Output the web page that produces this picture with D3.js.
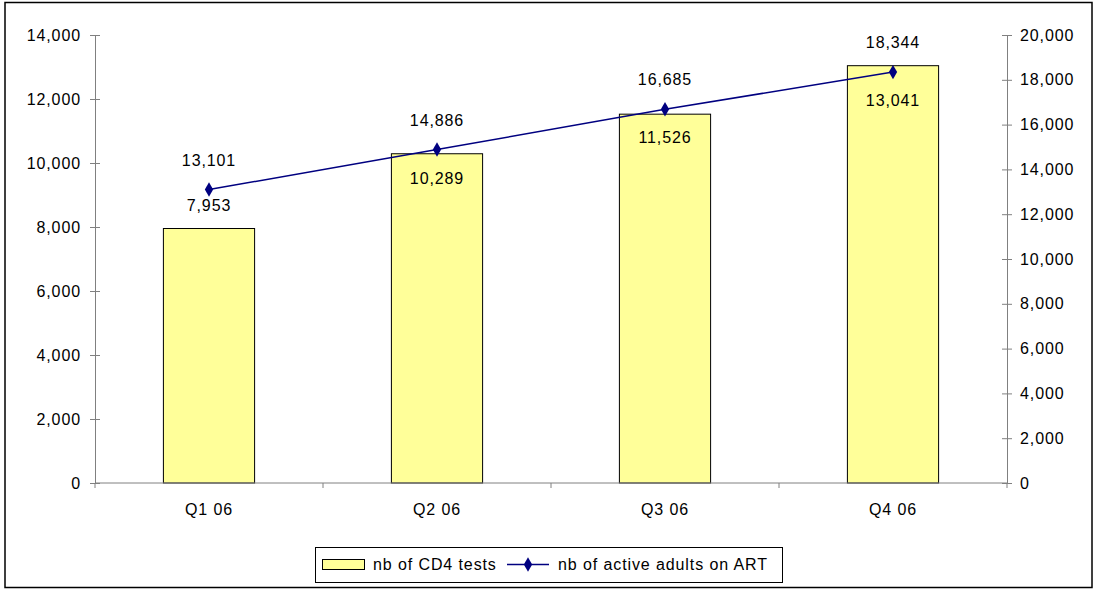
<!DOCTYPE html>
<html>
<head>
<meta charset="utf-8">
<script src="https://cdn.jsdelivr.net/npm/d3@7/dist/d3.min.js"></script>
<style>
  html, body { margin: 0; padding: 0; background: #fff; }
  svg text { font-family: "Liberation Sans", Arial, sans-serif; font-size: 16px; letter-spacing: 0.9px; fill: #000; }
</style>
</head>
<body>
<svg id="chart" width="1094" height="590"></svg>
<script>
// Quarterly figures for 2006
const quarters = ["Q1 06", "Q2 06", "Q3 06", "Q4 06"];
const cd4Tests = [7953, 10289, 11526, 13041];
const activeAdults = [13101, 14886, 16685, 18344];
const leftTicks = [0, 2000, 4000, 6000, 8000, 10000, 12000, 14000];
const rightTicks = [0, 2000, 4000, 6000, 8000, 10000, 12000, 14000, 16000, 18000, 20000];
const seriesNames = ["nb of CD4 tests", "nb of active adults on ART"];

const svg = d3.select("#chart");
const fmt = d3.format(",");
const axisColor = "#808080";
const lineColor = "#000080";

// outer frame
svg.append("rect")
  .attr("x", 5).attr("y", 2.5).attr("width", 1087).attr("height", 585)
  .attr("fill", "#fff").attr("stroke", "#000").attr("stroke-width", 1.5);

const plot = { left: 95, right: 1007, top: 35, bottom: 483 };

const x = d3.scaleBand().domain(quarters)
  .range([plot.left, plot.right]).paddingInner(0.6).paddingOuter(0.3);
const yL = d3.scaleLinear().domain([0, 14000]).range([plot.bottom, plot.top]);
const yR = d3.scaleLinear().domain([0, 20000]).range([plot.bottom, plot.top]);
const cx = q => x(q) + x.bandwidth() / 2;

// bars
svg.append("g").selectAll("rect").data(quarters).join("rect")
  .attr("x", q => x(q))
  .attr("y", (q, i) => yL(cd4Tests[i]))
  .attr("width", x.bandwidth())
  .attr("height", (q, i) => plot.bottom - yL(cd4Tests[i]))
  .attr("fill", "#FFFF99").attr("stroke", "#000").attr("stroke-width", 1);

// category baseline and ticks between categories
const step = x.step();
svg.append("line")
  .attr("x1", plot.left).attr("x2", plot.right)
  .attr("y1", plot.bottom).attr("y2", plot.bottom)
  .attr("stroke", axisColor);
const bounds = d3.range(quarters.length + 1).map(i => plot.left + i * step);
svg.append("g").selectAll("line").data(bounds).join("line")
  .attr("x1", d => d).attr("x2", d => d)
  .attr("y1", plot.bottom).attr("y2", plot.bottom + 5)
  .attr("stroke", axisColor);
svg.append("g").selectAll("text").data(quarters).join("text")
  .attr("x", q => cx(q)).attr("y", plot.bottom + 32)
  .attr("text-anchor", "middle").text(q => q);

// left axis
const gL = svg.append("g").attr("transform", `translate(${plot.left},0)`)
  .call(d3.axisLeft(yL).tickValues(leftTicks).tickFormat(fmt).tickSizeInner(5).tickSizeOuter(0).tickPadding(9));
gL.select(".domain").attr("stroke", axisColor);
gL.selectAll(".tick line").attr("x1", 5).attr("stroke", axisColor);
gL.selectAll(".tick text").attr("font-family", null).attr("font-size", null).attr("fill", "#000");
gL.attr("font-family", null).attr("font-size", null);

// right axis
const gR = svg.append("g").attr("transform", `translate(${plot.right},0)`)
  .call(d3.axisRight(yR).tickValues(rightTicks).tickFormat(fmt).tickSizeInner(5).tickSizeOuter(0).tickPadding(8));
gR.select(".domain").attr("stroke", axisColor);
gR.selectAll(".tick line").attr("x1", -5).attr("stroke", axisColor);
gR.selectAll(".tick text").attr("fill", "#000");
gR.attr("font-family", null).attr("font-size", null);

// line series on the secondary axis
const line = d3.line().x((d, i) => cx(quarters[i])).y(d => yR(d));
svg.append("path").datum(activeAdults)
  .attr("d", line).attr("fill", "none")
  .attr("stroke", lineColor).attr("stroke-width", 1.5);
const diamond = d3.symbol().type(d3.symbolDiamond).size(60);
svg.append("g").selectAll("path").data(activeAdults).join("path")
  .attr("transform", (d, i) => `translate(${cx(quarters[i])},${yR(d)})`)
  .attr("d", diamond).attr("fill", lineColor);

// value labels for the line, above each marker
svg.append("g").selectAll("text").data(activeAdults).join("text")
  .attr("x", (d, i) => cx(quarters[i]))
  .attr("y", d => yR(d) - 24)
  .attr("text-anchor", "middle").text(d => fmt(d));

// value labels for bars: above the bar if it clears the marker, otherwise just under the marker
svg.append("g").selectAll("text").data(cd4Tests).join("text")
  .attr("x", (d, i) => cx(quarters[i]))
  .attr("y", (d, i) => {
    const top = yL(d), mk = yR(activeAdults[i]);
    return (top - mk > 30) ? top - 17.5 : mk + 34;
  })
  .attr("text-anchor", "middle").text(d => fmt(d));

// legend
const lg = svg.append("g");
lg.append("rect").attr("x", 315.5).attr("y", 547.5).attr("width", 467).attr("height", 35)
  .attr("fill", "#fff").attr("stroke", "#000").attr("stroke-width", 1);
lg.append("rect").attr("x", 322.5).attr("y", 559.5).attr("width", 42).attr("height", 10)
  .attr("fill", "#FFFF99").attr("stroke", "#000").attr("stroke-width", 1);
lg.append("text").attr("x", 373).attr("y", 570).text(seriesNames[0]);
lg.append("line").attr("x1", 507).attr("x2", 549).attr("y1", 564.5).attr("y2", 564.5)
  .attr("stroke", lineColor).attr("stroke-width", 1.5);
lg.append("path").attr("transform", "translate(528,564.5)").attr("d", diamond).attr("fill", lineColor);
lg.append("text").attr("x", 558).attr("y", 570).text(seriesNames[1]);
</script>
</body>
</html>
